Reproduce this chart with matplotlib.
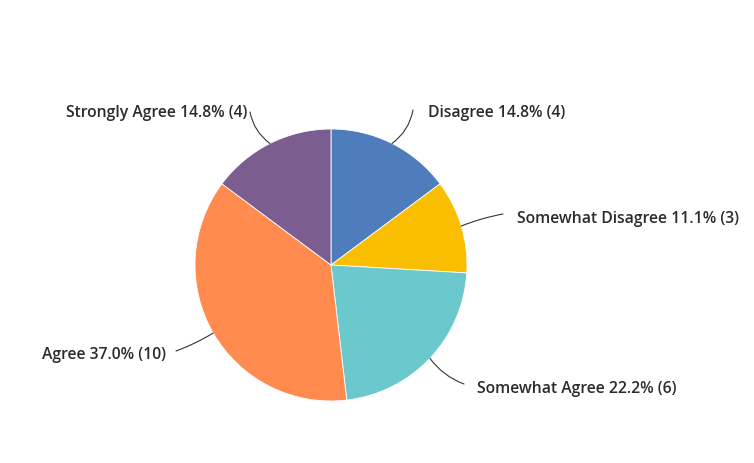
import matplotlib.pyplot as plt
import numpy as np

labels = ['Disagree', 'Somewhat Disagree', 'Somewhat Agree', 'Agree', 'Strongly Agree']
counts = [4, 3, 6, 10, 4]
colors = ['#4f7cba', '#f9be00', '#6bc8cd', '#ff8b4f', '#7b5e8f']

# label anchor (pixels from top-left) and alignment
label_pos = [(428, 113, 'left'), (517, 219, 'left'), (477, 389, 'left'),
             (166, 355, 'right'), (247, 113, 'right')]
line_start = [(413, 110), (503, 214), (464, 384), (176, 351), (250, 112)]
rads = [-0.2, 0.05, -0.15, 0.05, 0.2]

W, H = 754, 463
cx, cy, r = 331, H - 265, 136

fig = plt.figure(figsize=(W / 100, H / 100), dpi=100)
ax = fig.add_axes([0, 0, 1, 1])
wedges, _ = ax.pie(counts, colors=colors, startangle=90, counterclock=False,
                   center=(cx, cy), radius=r, frame=True,
                   wedgeprops=dict(edgecolor='white', linewidth=0.6))
ax.set_xlim(0, W)
ax.set_ylim(0, H)
ax.set_aspect('equal')
ax.axis('off')

total = sum(counts)
for i, w in enumerate(wedges):
    mid = np.deg2rad((w.theta1 + w.theta2) / 2)
    ex, ey = cx + r * np.cos(mid), cy + r * np.sin(mid)
    tx, ty, ha = label_pos[i]
    pct = counts[i] / total * 100
    ax.text(tx, H - ty, f'{labels[i]} {pct:.1f}% ({counts[i]})', ha=ha, va='center',
            fontsize=11.3, fontweight='semibold', family='Open Sans', color='#2b2b2b')
    sx, sy = line_start[i]
    ax.annotate('', xy=(ex, ey), xytext=(sx, H - sy),
                arrowprops=dict(arrowstyle='-', color='#333333', lw=0.8,
                                shrinkA=0, shrinkB=0,
                                connectionstyle=f'arc3,rad={rads[i]}'))

fig.savefig('out.png', dpi=100)
